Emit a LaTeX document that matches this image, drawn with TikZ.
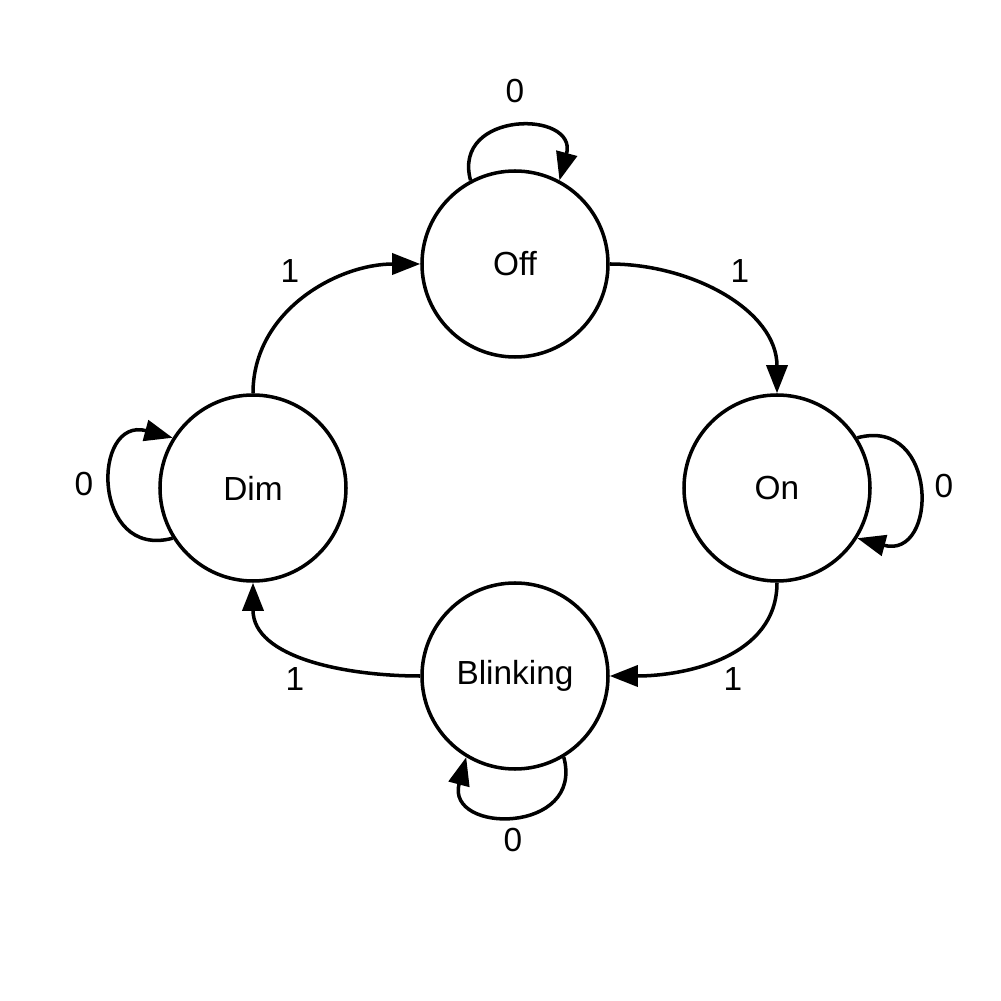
\documentclass[tikz,border=0pt]{standalone}
\usepackage{fontspec}
\setmainfont{Liberation Sans}
\usetikzlibrary{arrows.meta,positioning}
\tikzstyle{state} = [circle, draw, line width=1pt, minimum size=1.86cm, inner sep=0pt, font=\fontsize{9.5}{11}\selectfont]
\tikzstyle{arrow} = [line width=1pt, -{Triangle[length=8pt,width=6pt]}]
\tikzstyle{lbl} = [font=\fontsize{9.5}{11}\selectfont, inner sep=1pt]

\begin{document}
\begin{tikzpicture}
    \useasboundingbox (0,0) rectangle (10.01,10.01);

    % States
    \node[state] (off) at (5.15,7.37) {Off};
    \node[state] (on) at (7.77,5.13) {On};
    \node[state] (dim) at (2.53,5.13) {Dim};
    \node[state] (blink) at (5.15,3.25) {Blinking};

    % Input 1 transitions
    \draw[arrow] (off.east) to[out=0,in=90] (on.north);
    \draw[arrow] (on.south) to[out=-90,in=0] (blink.east);
    \draw[arrow] (blink.west) to[out=180,in=-90] (dim.south);
    \draw[arrow] (dim.north) to[out=90,in=180] (off.west);

    % Input 0 self loops
    \draw[arrow] (off.118) to[out=105,in=75,looseness=2.1] (off.62);
    \draw[arrow] (on.32) to[out=15,in=-15,looseness=2.15] (on.-32);
    \draw[arrow] (blink.301) to[out=-75,in=-105,looseness=2.1] (blink.239);
    \draw[arrow] (dim.212) to[out=195,in=165,looseness=2.15] (dim.148);

    % Labels
    \node[lbl] (l1) at (7.40,7.30) {1};
    \node[lbl] (l2) at (7.33,3.22) {1};
    \node[lbl] (l3) at (2.95,3.22) {1};
    \node[lbl] (l4) at (2.90,7.30) {1};
    \node[lbl] (z1) at (5.15,9.10) {0};
    \node[lbl] (z2) at (9.44,5.15) {0};
    \node[lbl] (z3) at (5.13,1.61) {0};
    \node[lbl] (z4) at (0.84,5.17) {0};
\end{tikzpicture}
\end{document}
